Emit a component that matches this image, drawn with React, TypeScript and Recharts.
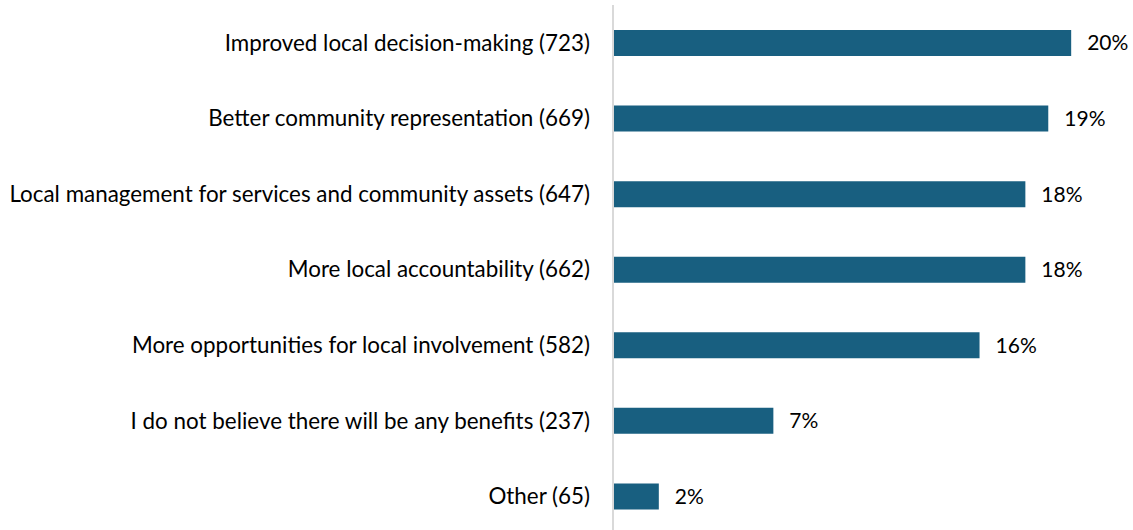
import { BarChart, Bar, XAxis, YAxis, LabelList } from "recharts";

const categories = [
  "Improved local decision-making (723)",
  "Better community representation (669)",
  "Local management for services and community assets (647)",
  "More local accountability (662)",
  "More opportunities for local involvement (582)",
  "I do not believe there will be any benefits (237)",
  "Other (65)",
];

const shares = [20, 19, 18, 18, 16, 7, 2];

const data = categories.map((name, i) => ({ name, value: shares[i] }));

const FONT = "Lato, 'Open Sans', sans-serif";

export default function App() {
  return (
    <div
      style={{
        position: "absolute",
        left: 0,
        top: 0,
        width: 1133,
        height: 530,
        overflow: "hidden",
        background: "#fff",
      }}
    >
      <BarChart
        width={1133}
        height={534}
        data={data}
        layout="vertical"
        margin={{ top: 5, right: 16, left: 0, bottom: 0 }}
      >
        <XAxis type="number" domain={[0, 22]} hide />
        <YAxis
          type="category"
          dataKey="name"
          width={613}
          axisLine={{ stroke: "#d9d9d9", strokeWidth: 2 }}
          tickLine={false}
          tickSize={0}
          tickMargin={23}
          interval={0}
          tick={{ fontSize: 22.4, fill: "#000", fontFamily: FONT }}
        />
        <Bar dataKey="value" fill="#185f80" barSize={26} isAnimationActive={false}>
          <LabelList
            dataKey="value"
            position="right"
            offset={16}
            formatter={(v: number) => `${v}%`}
            style={{ fontSize: 21, fill: "#000", fontFamily: FONT }}
          />
        </Bar>
      </BarChart>
    </div>
  );
}
